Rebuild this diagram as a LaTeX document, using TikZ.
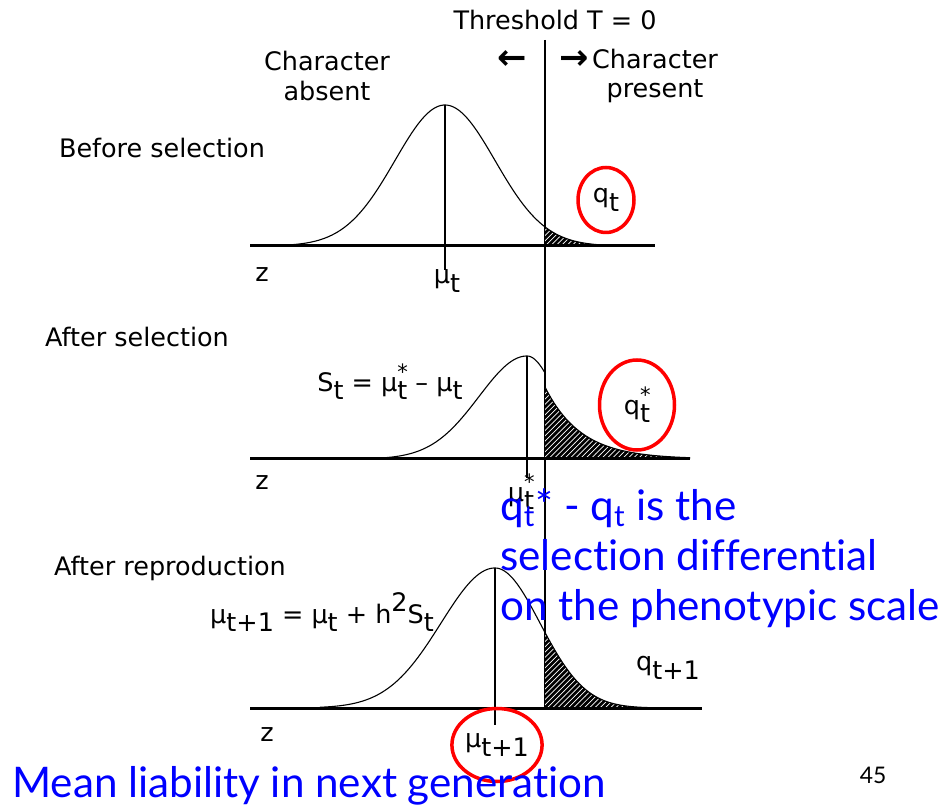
\documentclass[tikz,border=0pt]{standalone}
\usepackage{fontspec}
\setmainfont{DejaVu Sans}
\newfontfamily\bluefont[Ligatures=NoCommon]{Lato}
\usetikzlibrary{positioning,shapes.geometric,patterns}

\newcommand{\lo}[1]{\raisebox{-0.6ex}{#1}}
\newcommand{\hi}[1]{\raisebox{0.9ex}{#1}}
\newcommand{\stlo}[1]{\rlap{\raisebox{0.85ex}{\large *}}\raisebox{-0.6ex}{#1}}

\begin{document}
\begin{tikzpicture}[x=0.2mm, y=-0.2mm, lbl/.style={font=\fontsize{14.5}{17}\selectfont, inner sep=0pt}, note/.style={font=\bluefont\fontsize{24}{28.5}\selectfont, text=blue, inner sep=0pt, align=left}, axis/.style={line width=0.6mm}, curve/.style={line width=0.22mm}, meanline/.style={line width=0.3mm}, tail/.style={fill=black, postaction={pattern=north east lines, pattern color=white}}, ring/.style={ellipse, draw=red, line width=0.7mm, inner sep=0pt}]

\useasboundingbox (0,0) rectangle (945,807);

% threshold
\coordinate (tTop) at (545,40);
\coordinate (tBot) at (545,708);
\draw[line width=0.35mm] (tTop) -- (tBot);
\node[lbl] (thr) at (555,20) {Threshold T = 0};
\node[lbl, font=\bfseries\fontsize{20}{20}\selectfont] (la) at (512,60) {←};
\node[lbl, font=\bfseries\fontsize{20}{20}\selectfont] (ra) at (574,60) {→};
\node[lbl, align=center] (absent) at (327,76) {Character\\absent};
\node[lbl, align=center] (present) at (655,76) {Character\\present};

% before selection
\node[lbl] (before) at (162,148) {Before selection};
\fill[tail] (545,246) -- plot[domain=545:648, samples=40] (\x,{246-141*exp(-0.5*((\x-445)/50)^2)}) -- (648,246) -- cycle;
\draw[curve] plot[domain=268:648, samples=120] (\x,{246-141*exp(-0.5*((\x-445)/50)^2)});
\draw[axis] (250,246) -- (655,246);
\coordinate (m1) at (445,105);
\coordinate (m1b) at (445,270);
\draw[meanline] (m1) -- (m1b);
\node[lbl] (z1) at (262,275) {z};
\node[lbl] (mu1) at (447,281) {μ\lo{t}};
\node[lbl, ring, minimum width=11.2mm, minimum height=13mm] (qt) at (606,200) {q\lo{t}};

% after selection
\node[lbl] (after) at (137,337) {After selection};
\fill[tail] (545,459) -- plot[domain=545:690, samples=50] (\x,{459-72*exp(-(\x-545)/36)}) -- (690,459) -- cycle;
\draw[curve] plot[domain=335:527, samples=100] (\x,{459-103*exp(-0.5*((\x-527)/48)^2)}) -- plot[domain=527:545, samples=10] (\x,{459-103*exp(-0.5*((\x-527)/30)^2)});
\draw[curve] plot[domain=545:690, samples=50] (\x,{459-72*exp(-(\x-545)/36)});
\draw[axis] (250,459) -- (690,459);
\coordinate (m2) at (527,356);
\coordinate (m2b) at (527,478);
\draw[meanline] (m2) -- (m2b);
\node[lbl] (z2) at (262,483) {z};
\node[lbl] (sel) at (390,382) {S\lo{t} = μ\stlo{t} – μ\lo{t}};
\node[lbl] (mu2) at (521,492) {μ\stlo{t}};
\node[lbl, ring, minimum width=15mm, minimum height=18mm] (qs) at (637,405) {q\stlo{t}};

% after reproduction
\node[lbl] (repro) at (170,568) {After reproduction};
\fill[tail] (545,708) -- plot[domain=545:692, samples=50] (\x,{708-140*exp(-0.5*((\x-495)/45)^2)}) -- (692,708) -- cycle;
\draw[curve] plot[domain=320:495, samples=100] (\x,{708-140*exp(-0.5*((\x-495)/54)^2)}) -- plot[domain=495:692, samples=100] (\x,{708-140*exp(-0.5*((\x-495)/45)^2)});
\draw[axis] (250,708) -- (702,708);
\coordinate (m3) at (495,568);
\coordinate (m3b) at (495,725);
\draw[meanline] (m3) -- (m3b);
\node[lbl] (z3) at (267,735) {z};
\node[lbl] (resp) at (322,612) {μ\lo{t+1} = μ\lo{t} + h\hi{2}S\lo{t}};
\node[lbl] (q3) at (668,668) {q\lo{t+1}};
\node[lbl, ring, minimum width=16.8mm, minimum height=14.6mm] (mu3) at (497,745) {μ\lo{t+1}};

% notes
\node[note, anchor=north west] (diff) at (500,488) {q\textsubscript{t}* - q\textsubscript{t} is the\\selection differential\\on the phenotypic scale};
\node[note, anchor=base west] (mean) at (12,797) {Mean liability in next generation};
\node[font=\bluefont\fontsize{13}{13}\selectfont, inner sep=0pt] (page) at (873,775) {45};
\end{tikzpicture}
\end{document}
